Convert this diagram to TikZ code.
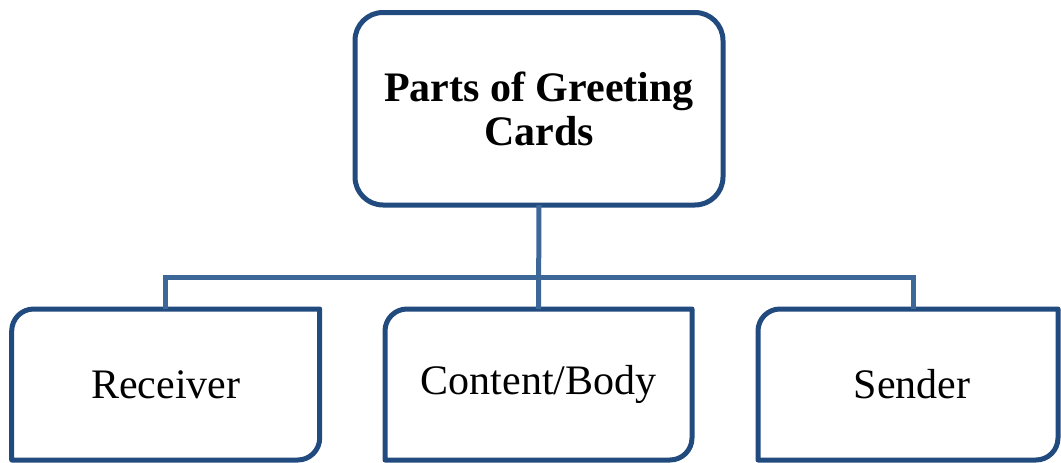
\documentclass[tikz,border=0pt]{standalone}
\usepackage{fontspec}
\setmainfont{Liberation Serif}
\definecolor{boxblue}{RGB}{33,74,126}
\definecolor{linkblue}{RGB}{62,103,153}
\tikzset{
  boxline/.style={draw=boxblue, line width=5pt, line join=round},
  linkline/.style={draw=linkblue, line width=5pt},
  topbox/.style={boxline, rounded corners=28pt, minimum width=368pt, minimum height=192.5pt,
    inner sep=0pt, outer sep=0pt, align=center, font=\fontsize{42}{44}\selectfont\bfseries},
  leafbox/.style={minimum width=308pt, minimum height=151pt, inner sep=0pt, outer sep=0pt,
    font=\fontsize{42}{44}\selectfont},
}
\newcommand{\leafshape}[1]{%
  \draw[boxline] (#1.south west) -- ([yshift=-22pt]#1.north west)
    arc[start angle=180, end angle=90, radius=22pt] -- (#1.north east)
    -- ([yshift=22pt]#1.south east)
    arc[start angle=0, end angle=-90, radius=22pt] -- cycle;}
\begin{document}
\begin{tikzpicture}[x=1pt,y=-1pt]
\useasboundingbox (0,0) rectangle (1061,463);
\node[topbox] (top) at (539,108.75) {Parts of Greeting\\Cards};
\node[leafbox] (recv) at (165.7,384.5) {Receiver};
\node[leafbox, minimum width=307pt] (cont) at (538.5,384.5) {Content/Body};
\node[leafbox, minimum width=300pt] (send) at (908,384.5) {\hspace*{8pt}Sender};
\leafshape{recv}
\leafshape{cont}
\leafshape{send}
\coordinate (bus) at (538.5,277);
\coordinate (sendtop) at ([xshift=5pt]send.north);
\draw[linkline] (top.south) -- (cont.north);
\draw[linkline] (recv.north) -- (recv.north |- bus) -- (sendtop |- bus) -- (sendtop);
\end{tikzpicture}
\end{document}
